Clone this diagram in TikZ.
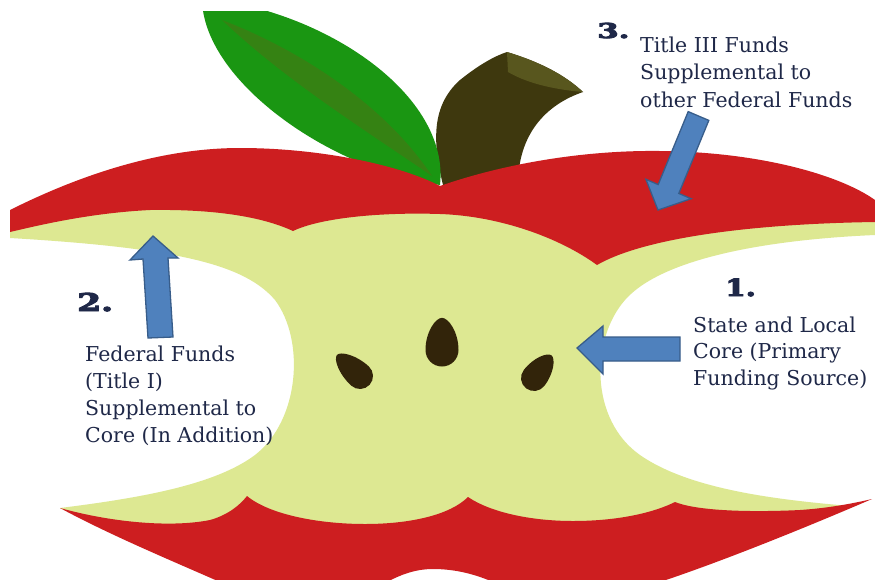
\documentclass[tikz,border=0pt]{standalone}
\usepackage{fontspec}
\newfontfamily\numfont{DejaVu Serif}[BoldFeatures={FakeBold=4}]
\newfontfamily\txtfont{DejaVu Serif}
\definecolor{applered}{RGB}{205,30,32}
\definecolor{flesh}{RGB}{221,232,146}
\definecolor{leafgreen}{RGB}{26,150,18}
\definecolor{veingreen}{RGB}{72,118,20}
\definecolor{stemdark}{RGB}{62,56,14}
\definecolor{stemcap}{RGB}{88,86,30}
\definecolor{seedbrown}{RGB}{50,36,10}
\definecolor{arrowblue}{RGB}{79,129,189}
\definecolor{arrowedge}{RGB}{56,93,138}
\definecolor{navy}{RGB}{31,40,72}
\newcommand{\drawseed}[5]{%
  \fill[seedbrown, shift={(#1,#2)}, rotate=#3, scale=#4]
    (0,-#5) .. controls (0.4,-#5) and (1,{-0.55*#5}) .. (1,0)
    arc[start angle=0,end angle=180,radius=1]
    .. controls (-1,{-0.55*#5}) and (-0.4,-#5) .. (0,-#5) -- cycle;}
\tikzset{
  lbl/.style={anchor=base west, inner sep=0pt, text=navy,
    font=\txtfont\fontsize{20.5}{27}\selectfont},
  numlbl/.style={anchor=base west, inner sep=0pt, text=navy,
    font=\numfont\bfseries\fontsize{#1}{#1}\selectfont},
  bluearrow/.style={fill=arrowblue, draw=arrowedge, line width=1.3pt, line join=miter}
}
\begin{document}
\begin{tikzpicture}[x=1pt,y=-1pt]
\useasboundingbox (0,0) rectangle (875,579);
\fill[white] (0,0) rectangle (875,579);

% stem
\fill[stemdark] (443,185) .. controls (432,140) and (432,105) .. (460,80)
  .. controls (480,64) and (495,56) .. (507,52)
  .. controls (540,62) and (565,75) .. (583,92)
  .. controls (545,105) and (518,135) .. (518,185) -- cycle;
\fill[stemcap] (507,52) .. controls (540,62) and (565,75) .. (583,92)
  .. controls (560,90) and (530,85) .. (508,72) -- cycle;

% leaf
\begin{scope}
\clip (0,11) rectangle (875,579);
\fill[leafgreen] (202,-2) .. controls (325,10) and (450,95) .. (440,185)
  .. controls (330,170) and (202,80) .. (202,-2) -- cycle;
\fill[veingreen, opacity=0.6] (222,20) .. controls (300,50) and (385,105) .. (432,176)
  .. controls (365,130) and (285,80) .. (222,20) -- cycle;
\end{scope}

% flesh
\fill[flesh] (10,220) -- (150,200) -- (293,215) -- (440,200) -- (597,230) -- (875,212)
  -- (875,235) .. controls (760,240) and (660,260) .. (625,300)
  .. controls (590,340) and (590,420) .. (640,455)
  .. controls (690,490) and (780,500) .. (850,506)
  -- (780,525) -- (600,545) -- (300,545) -- (150,535) -- (100,525) -- (60,508)
  .. controls (140,498) and (215,485) .. (255,455)
  .. controls (300,420) and (305,340) .. (275,300)
  .. controls (245,265) and (180,248) .. (10,238) -- cycle;

% top skin
\fill[applered] (10,210) .. controls (80,175) and (160,148) .. (240,148)
  .. controls (320,148) and (400,165) .. (440,186)
  .. controls (500,165) and (580,150) .. (660,151)
  .. controls (760,152) and (840,175) .. (875,200)
  -- (875,222) .. controls (740,224) and (640,240) .. (597,265)
  .. controls (560,238) and (500,216) .. (440,214)
  .. controls (380,212) and (320,218) .. (293,231)
  .. controls (265,218) and (220,209) .. (150,210)
  .. controls (90,213) and (40,225) .. (10,232) -- cycle;

% bottom skin
\fill[applered] (60,508) .. controls (110,522) and (170,528) .. (210,520)
  .. controls (228,515) and (240,505) .. (247,496)
  .. controls (270,515) and (320,524) .. (365,524)
  .. controls (410,524) and (450,515) .. (468,497)
  .. controls (490,512) and (530,521) .. (573,521)
  .. controls (620,521) and (655,512) .. (675,502)
  .. controls (700,512) and (760,512) .. (800,510)
  .. controls (830,508) and (855,503) .. (872,499)
  .. controls (800,530) and (720,562) .. (660,582)
  -- (493,582) .. controls (470,572) and (450,569) .. (433,569)
  .. controls (415,569) and (400,575) .. (387,582)
  -- (220,582) .. controls (170,560) and (110,535) .. (60,508) -- cycle;

% seeds
\drawseed{442}{350}{0}{16.5}{1.95}
\drawseed{360}{376}{47.5}{13}{2.4}
\drawseed{534}{378}{-37.7}{13}{2.2}

% arrows
\draw[bluearrow] (153,236) -- (178,258) -- (168,258) -- (173,337) -- (148,338) -- (143,259) -- (130,260) -- cycle;
\draw[bluearrow] (577,348) -- (603,326) -- (603,337) -- (680,337) -- (680,361) -- (603,361) -- (603,374) -- cycle;
\draw[bluearrow] (658,210) -- (645.9,179.3) -- (658.2,184.6) -- (688.2,111.6) -- (708.8,120.4) -- (678.8,193.4) -- (691.1,198.7) -- cycle;

% labels
\node[numlbl=20.5, xscale=1.5] (n3) at (597,38) {3.};
\node[lbl] (l3a) at (640,52) {Title III Funds};
\node[lbl] (l3b) at (640,79.5) {Supplemental to};
\node[lbl] (l3c) at (640,107) {other Federal Funds};

\node[numlbl=24.5, xscale=1.4] (n2) at (77,311) {2.};
\node[lbl] (l2a) at (85,361) {Federal Funds};
\node[lbl] (l2b) at (85,388) {(Title I)};
\node[lbl] (l2c) at (85,415) {Supplemental to};
\node[lbl] (l2d) at (85,442) {Core (In Addition)};

\node[numlbl=23.5, xscale=1.25] (n1) at (725,296) {1.};
\node[lbl] (l1a) at (693,332) {State and Local};
\node[lbl] (l1b) at (693,358) {Core (Primary};
\node[lbl] (l1c) at (693,385) {Funding Source)};
\end{tikzpicture}
\end{document}
